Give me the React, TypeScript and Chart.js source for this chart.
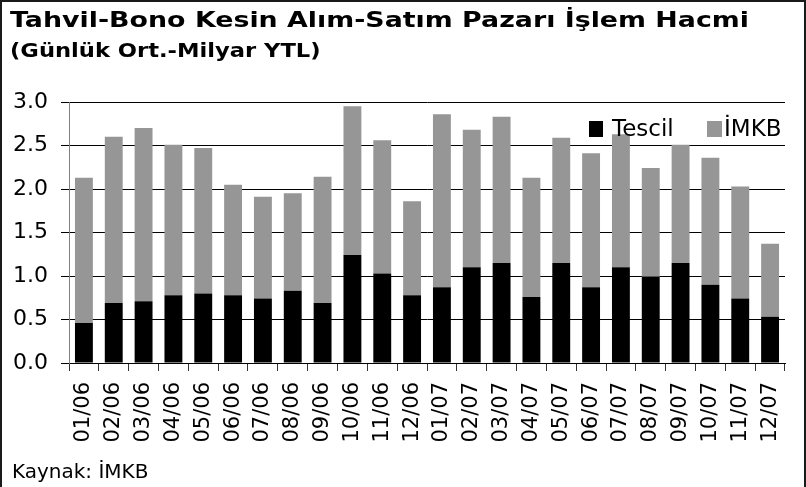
import React, { useEffect, useRef } from "react";
import { Chart, registerables } from "chart.js";

Chart.register(...registerables);

const categories = ["01/06","02/06","03/06","04/06","05/06","06/06","07/06","08/06","09/06","10/06","11/06","12/06","01/07","02/07","03/07","04/07","05/07","06/07","07/07","08/07","09/07","10/07","11/07","12/07"];
const tescil = [0.46,0.69,0.71,0.78,0.80,0.78,0.74,0.83,0.69,1.24,1.03,0.78,0.87,1.10,1.15,0.76,1.15,0.87,1.10,0.99,1.15,0.90,0.74,0.53];
const imkb = [1.67,1.91,1.99,1.73,1.67,1.27,1.17,1.12,1.45,1.71,1.53,1.08,1.99,1.58,1.68,1.37,1.44,1.54,1.53,1.25,1.36,1.46,1.29,0.84];
const seriesNames = ["Tescil", "İMKB"];
const seriesColors = ["#000000", "#969696"];
const yTicks = { min: 0, max: 3, step: 0.5 };

const titleText = "Tahvil-Bono Kesin Alım-Satım Pazarı İşlem Hacmi";
const subtitleText = "(Günlük Ort.-Milyar YTL)";
const sourceText = "Kaynak: İMKB";

const W = 806;
const H = 487;
const PLOT_LEFT = 69;
const PLOT_RIGHT = 785;
const PLOT_TOP = 102;
const PLOT_BOTTOM = 363;

export default function App() {
  const ref = useRef<HTMLCanvasElement | null>(null);

  useEffect(() => {
    document.body.style.margin = "0";
    const canvas = ref.current;
    if (!canvas) return;
    const chart = new Chart(canvas, {
      type: "bar",
      data: {
        labels: categories,
        datasets: [
          { label: seriesNames[0], data: tescil, backgroundColor: seriesColors[0], borderWidth: 0 },
          { label: seriesNames[1], data: imkb, backgroundColor: seriesColors[1], borderWidth: 0 },
        ],
      },
      options: {
        responsive: false,
        animation: false,
        devicePixelRatio: 1,
        layout: { padding: { left: 0, top: PLOT_TOP, right: W - PLOT_RIGHT, bottom: 0 } },
        datasets: { bar: { barPercentage: 0.6, categoryPercentage: 1.0 } },
        plugins: { legend: { display: false }, tooltip: { enabled: false }, title: { display: false } },
        scales: {
          x: {
            stacked: true,
            grid: { display: true, drawOnChartArea: false, drawTicks: true, tickLength: 8, color: "#333333", offset: true },
            border: { display: true, color: "#000000", width: 1 },
            ticks: {
              color: "#000000",
              font: { family: "DejaVu Sans", size: 21 },
              maxRotation: 90,
              minRotation: 90,
              autoSkip: false,
              padding: 11,
            },
            afterFit: (s: any) => {
              s.height = H - PLOT_BOTTOM;
              s.paddingLeft = 0;
              s.paddingRight = 0;
            },
          },
          y: {
            stacked: true,
            min: yTicks.min,
            max: yTicks.max,
            grid: { color: "#000000", lineWidth: 1, tickLength: 8, drawTicks: true },
            border: { display: true, color: "#808080", width: 1 },
            ticks: {
              stepSize: yTicks.step,
              color: "#000000",
              font: { family: "DejaVu Sans", size: 22 },
              padding: 13,
              callback: (v: any) => Number(v).toFixed(1),
            },
            afterFit: (s: any) => {
              s.width = PLOT_LEFT;
              s.paddingTop = 0;
              s.paddingBottom = 0;
            },
          },
        },
      },
    });
    return () => chart.destroy();
  }, []);

  const base: React.CSSProperties = { position: "absolute", whiteSpace: "nowrap", color: "#000", lineHeight: 1 };

  return (
    <div style={{ position: "fixed", left: 0, top: 0, width: W, height: H, background: "#fff", overflow: "hidden" }}>
      <canvas ref={ref} width={W} height={H} style={{ position: "absolute", left: 0, top: 0, width: W, height: H }} />
      <div style={{ position: "absolute", left: 0, top: 0, width: W, height: H + 10, boxSizing: "border-box", border: "2px solid #1a1a1a", pointerEvents: "none" }} />
      <div style={{ ...base, left: 10, top: 9, fontFamily: "DejaVu Sans", fontWeight: "bold", fontSize: 22, transform: "scaleX(1.22)", transformOrigin: "0 0" }}>{titleText}</div>
      <div style={{ ...base, left: 10, top: 41, fontFamily: "DejaVu Sans", fontWeight: "bold", fontSize: 19, transform: "scaleX(1.19)", transformOrigin: "0 0" }}>{subtitleText}</div>
      <div style={{ ...base, left: 12, top: 461, fontFamily: "DejaVu Sans", fontSize: 20 }}>{sourceText}</div>
      <div style={{ position: "absolute", left: 589, top: 121, width: 14, height: 16, background: seriesColors[0] }} />
      <div style={{ ...base, left: 612, top: 117, fontFamily: "DejaVu Sans", fontSize: 23 }}>{seriesNames[0]}</div>
      <div style={{ position: "absolute", left: 707, top: 121, width: 15, height: 16, background: seriesColors[1] }} />
      <div style={{ ...base, left: 724, top: 117, fontFamily: "DejaVu Sans", fontSize: 23 }}>{seriesNames[1]}</div>
    </div>
  );
}
